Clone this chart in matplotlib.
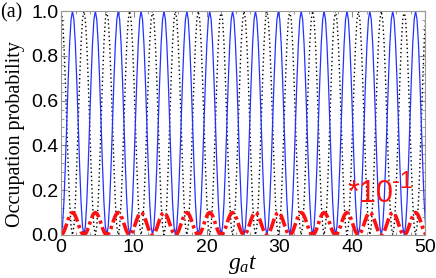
import numpy as np
import matplotlib
matplotlib.use("Agg")
import matplotlib.pyplot as plt
from matplotlib.ticker import MultipleLocator

plt.rcParams["mathtext.fontset"] = "custom"
plt.rcParams["mathtext.rm"] = "Liberation Serif"
plt.rcParams["mathtext.it"] = "Liberation Serif:italic"

# one oscillation (fraction of peak, 16 steps per period)
hump = [0.0, 0.038, 0.146, 0.309, 0.5, 0.691, 0.854, 0.962, 1.0,
        0.962, 0.854, 0.691, 0.5, 0.309, 0.146, 0.038, 0.0]
period = 3.1416
# peak height of every oscillation, one per period
blue_peaks = [1.0] * 16
red_peaks = [0.10, 0.10, 0.10, 0.10, 0.10, 0.10, 0.10, 0.10,
             0.10, 0.10, 0.10, 0.10, 0.10, 0.10, 0.10, 0.10]
black_peaks = [1.0] * 17


def series(peaks, start):
    t, y = [], []
    n = len(hump) - 1
    for k, p in enumerate(peaks):
        for i, h in enumerate(hump[:-1] if k < len(peaks) - 1 else hump):
            t.append(start + (k + i / n) * period)
            y.append(p * h)
    return np.array(t), np.array(y)


tb, yb = series(blue_peaks, 0.0)
tr, yr = series(red_peaks, 0.0)
tk, yk = series(black_peaks, -period / 2)

fig = plt.figure(figsize=(4.36, 2.78), dpi=100)
ax = fig.add_axes([0.140, 0.155, 0.835, 0.805])

ax.plot(tk, yk, color="black", lw=1.0, ls=(0, (1, 2.0)))
ax.plot(tb, yb, color="#2233ff", lw=0.9)
ax.plot(tr, yr, color="#ff1010", lw=2.6, ls=(0, (3.6, 1.0, 0.9, 1.0)))

ax.set_xlim(0, 50)
ax.set_ylim(0, 1.0)
ax.xaxis.set_major_locator(MultipleLocator(10))
ax.xaxis.set_minor_locator(MultipleLocator(2))
ax.yaxis.set_major_locator(MultipleLocator(0.2))
ax.yaxis.set_minor_locator(MultipleLocator(0.04))
ax.yaxis.set_major_formatter(plt.FormatStrFormatter("%.1f"))
ax.tick_params(which="both", direction="in", top=True, right=True,
               color="#888888", labelsize=14)
ax.tick_params(axis="y", which="major", length=4, pad=2)
ax.tick_params(axis="x", which="major", length=4, pad=3)
ax.tick_params(which="minor", length=2)
for lab in ax.get_xticklabels() + ax.get_yticklabels():
    lab.set_family("Liberation Sans")
for s in ax.spines.values():
    s.set_color("#999999")

ax.set_ylabel("Occupation probability", family="Liberation Serif", fontsize=14.5)
ax.yaxis.set_label_coords(-0.10, 0.45)
ax.set_xlabel("$g_{a}t$", fontsize=17, labelpad=-3)
fig.text(0.0, 0.955, "(a)", family="Liberation Serif", fontsize=14.5, va="center")
ax.text(39.4, 0.147, "*10", color="#ff1010", fontsize=22,
        family="Liberation Sans", va="baseline")
ax.text(45.5, 0.21, "-1", color="#ff1010", fontsize=17,
        family="Liberation Sans", va="baseline")

fig.savefig("out.png", dpi=100)
